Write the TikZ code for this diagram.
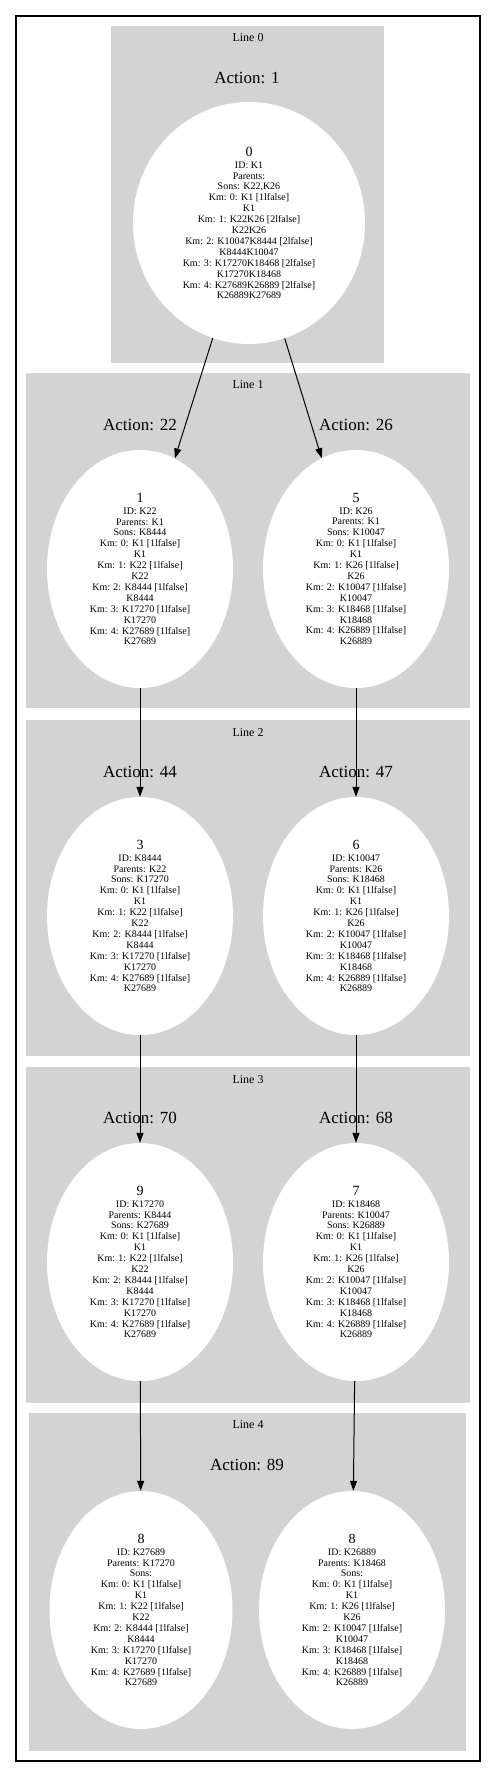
\documentclass[tikz,border=0pt]{standalone}
\usepackage{fontspec}
\setmainfont{Liberation Serif}
\usetikzlibrary{arrows.meta,shapes.geometric}
\definecolor{clustergray}{HTML}{D3D3D3}

\tikzset{
    line/.style={fill=clustergray, draw=none},
    linelabel/.style={font=\fontsize{12}{14}\selectfont},
    actionlabel/.style={font=\fontsize{17}{20}\selectfont},
    state/.style={ellipse, fill=white, draw=none, inner sep=0pt,
      minimum width=186pt, minimum height=238pt, align=center,
      font=\fontsize{10}{10.9}\selectfont},
    edge/.style={-{Triangle[length=10pt,width=7pt]}, line width=1pt}
  }
\newcommand{\statenum}[1]{{\fontsize{14}{16}\selectfont #1}\\[1pt]}
\newcommand{\kmleft}{Km: 0: K1 [1lfalse]\\K1\\Km: 1: K22 [1lfalse]\\K22\\
  Km: 2: K8444 [1lfalse]\\K8444\\Km: 3: K17270 [1lfalse]\\K17270\\
  Km: 4: K27689 [1lfalse]\\K27689}
\newcommand{\kmright}{Km: 0: K1 [1lfalse]\\K1\\Km: 1: K26 [1lfalse]\\K26\\
  Km: 2: K10047 [1lfalse]\\K10047\\Km: 3: K18468 [1lfalse]\\K18468\\
  Km: 4: K26889 [1lfalse]\\K26889}

\begin{document}
\begin{tikzpicture}[x=1pt, y=-1pt]
    \useasboundingbox (0,0) rectangle (496,1777);
    \draw[line width=1.2pt] (16,16) rectangle (480,1761);

    \fill[line] (111,26) rectangle (384,363);
    \fill[line] (26,373) rectangle (470,708);
    \fill[line] (26,720) rectangle (470,1056);
    \fill[line] (26,1067) rectangle (470,1403);
    \fill[line] (29,1413) rectangle (466,1751);

    \node[linelabel] (l0) at (248,38) {Line 0};
    \node[linelabel] (l1) at (248,385) {Line 1};
    \node[linelabel] (l2) at (248,733) {Line 2};
    \node[linelabel] (l3) at (248,1080) {Line 3};
    \node[linelabel] (l4) at (248,1425) {Line 4};

    \node[actionlabel] (a1) at (247,78) {Action: 1};
    \node[actionlabel] (a22) at (140,425) {Action: 22};
    \node[actionlabel] (a26) at (356,425) {Action: 26};
    \node[actionlabel] (a44) at (140,772) {Action: 44};
    \node[actionlabel] (a47) at (356,772) {Action: 47};
    \node[actionlabel] (a70) at (140,1118) {Action: 70};
    \node[actionlabel] (a68) at (356,1118) {Action: 68};
    \node[actionlabel] (a89) at (247,1465) {Action: 89};

    \node[state, minimum width=232pt, minimum height=242pt] (n0) at (249,223)
      {\statenum{0}ID: K1\\Parents:\\Sons: K22,K26\\Km: 0: K1 [1lfalse]\\K1\\
       Km: 1: K22K26 [2lfalse]\\K22K26\\Km: 2: K10047K8444 [2lfalse]\\K8444K10047\\
       Km: 3: K17270K18468 [2lfalse]\\K17270K18468\\Km: 4: K27689K26889 [2lfalse]\\K26889K27689};
    \node[state] (n1) at (140,569) {\statenum{1}ID: K22\\Parents: K1\\Sons: K8444\\\kmleft};
    \node[state] (n5) at (356,569) {\statenum{5}ID: K26\\Parents: K1\\Sons: K10047\\\kmright};
    \node[state] (n3) at (140,916) {\statenum{3}ID: K8444\\Parents: K22\\Sons: K17270\\\kmleft};
    \node[state] (n6) at (356,916) {\statenum{6}ID: K10047\\Parents: K26\\Sons: K18468\\\kmright};
    \node[state] (n9) at (140,1262) {\statenum{9}ID: K17270\\Parents: K8444\\Sons: K27689\\\kmleft};
    \node[state] (n7) at (356,1262) {\statenum{7}ID: K18468\\Parents: K10047\\Sons: K26889\\\kmright};
    \node[state, minimum width=183pt] (n8a) at (141,1610) {\statenum{8}ID: K27689\\Parents: K17270\\Sons:\\\kmleft};
    \node[state] (n8b) at (352,1610) {\statenum{8}ID: K26889\\Parents: K18468\\Sons:\\\kmright};

    \draw[edge] (n0) -- (n1);
    \draw[edge] (n0) -- (n5);
    \draw[edge] (n1) -- (n3);
    \draw[edge] (n5) -- (n6);
    \draw[edge] (n3) -- (n9);
    \draw[edge] (n6) -- (n7);
    \draw[edge] (n9) -- (n8a);
    \draw[edge] (n7) -- (n8b);
  \end{tikzpicture}
\end{document}
